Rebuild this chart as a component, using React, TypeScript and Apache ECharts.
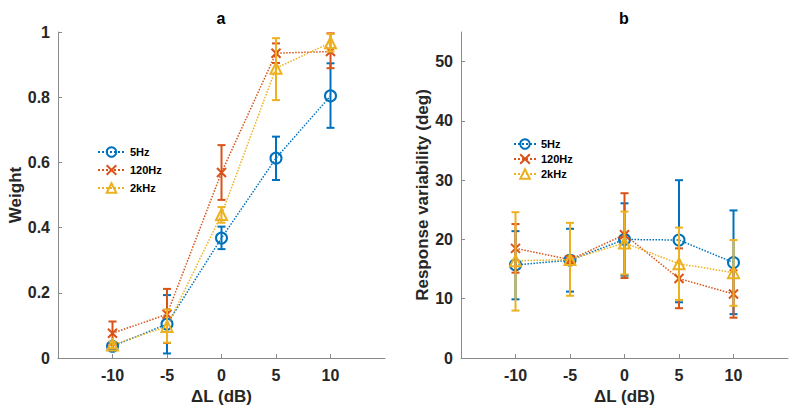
import React, { useEffect, useRef } from "react";
import * as echarts from "echarts";

// ---- data ----
const levels = [-10, -5, 0, 5, 10];
const xTicks = [-10, -5, 0, 5, 10];
const weightTicks = [0, 0.2, 0.4, 0.6, 0.8, 1];
const varTicks = [0, 10, 20, 30, 40, 50];
const seriesNames = ["5Hz", "120Hz", "2kHz"];

// Panel a: Weight
const w5Hz = [0.036, 0.104, 0.368, 0.613, 0.804];
const w5HzLo = [0.026, 0.014, 0.334, 0.546, 0.706];
const w5HzHi = [0.046, 0.193, 0.403, 0.679, 0.904];
const w120Hz = [0.076, 0.134, 0.569, 0.935, 0.94];
const w120HzLo = [0.04, 0.046, 0.485, 0.905, 0.889];
const w120HzHi = [0.112, 0.212, 0.653, 0.965, 0.996];
const w2kHz = [0.04, 0.097, 0.44, 0.889, 0.967];
const w2kHzLo = [0.03, 0.047, 0.415, 0.791, 0.94];
const w2kHzHi = [0.05, 0.149, 0.463, 0.981, 0.994];

// Panel b: Response variability (deg)
const v5Hz = [15.7, 16.5, 20.0, 19.9, 16.1];
const v5HzLo = [9.9, 11.2, 13.9, 9.4, 7.4];
const v5HzHi = [21.4, 21.8, 26.1, 30.0, 24.9];
const v120Hz = [18.5, 16.6, 20.8, 13.4, 10.8];
const v120HzLo = [14.4, 16.0, 13.5, 8.4, 6.8];
const v120HzHi = [22.6, 17.2, 27.8, 18.5, 14.8];
const v2kHz = [16.4, 16.6, 19.4, 15.9, 14.4];
const v2kHzLo = [8.0, 10.5, 14.1, 9.8, 8.8];
const v2kHzHi = [24.6, 22.8, 24.7, 22.0, 19.9];

const colors = ["#0072BD", "#D95319", "#EDB120"];
const symbols = ["circle", "path://M0 0L10 10M10 0L0 10", "triangle"];
const FONT = "'Liberation Sans', Arial, Helvetica, sans-serif";
const TEXT = "#262626";
const AXIS = "#8a8a8a";

export default function App() {
  const ref = useRef<HTMLDivElement>(null);
  useEffect(() => {
    if (!ref.current) return;
    const chart = echarts.init(ref.current, undefined, { renderer: "svg" });

    const panels = [
      {
        means: [w5Hz, w120Hz, w2kHz],
        lo: [w5HzLo, w120HzLo, w2kHzLo],
        hi: [w5HzHi, w120HzHi, w2kHzHi],
      },
      {
        means: [v5Hz, v120Hz, v2kHz],
        lo: [v5HzLo, v120HzLo, v2kHzLo],
        hi: [v5HzHi, v120HzHi, v2kHzHi],
      },
    ];

    const series: any[] = [];
    panels.forEach((p, pi) => {
      seriesNames.forEach((name, si) => {
        const c = colors[si];
        series.push({
          type: "custom",
          name: name + " err " + pi,
          xAxisIndex: pi,
          yAxisIndex: pi,
          z: 2 + si,
          data: levels.map((x, i) => [x, p.lo[si][i], p.hi[si][i]]),
          encode: { x: 0, y: [1, 2] },
          renderItem: (params: any, api: any) => {
            const x = api.value(0);
            const a = api.coord([x, api.value(1)]);
            const b = api.coord([x, api.value(2)]);
            const w = 4;
            const st = { stroke: c, lineWidth: 2 };
            return {
              type: "group",
              children: [
                { type: "line", shape: { x1: a[0], y1: a[1], x2: b[0], y2: b[1] }, style: st },
                { type: "line", shape: { x1: a[0] - w, y1: a[1], x2: a[0] + w, y2: a[1] }, style: st },
                { type: "line", shape: { x1: b[0] - w, y1: b[1], x2: b[0] + w, y2: b[1] }, style: st },
              ],
            };
          },
        });
        series.push({
          type: "line",
          name,
          xAxisIndex: pi,
          yAxisIndex: pi,
          z: 2 + si,
          data: levels.map((x, i) => [x, p.means[si][i]]),
          symbol: symbols[si],
          symbolSize: si === 1 ? 9 : 11,
          showSymbol: true,
          lineStyle: { color: c, width: 1.5, type: "dotted" },
          itemStyle: { color: "rgba(0,0,0,0)", borderColor: c, borderWidth: 2 },
          emphasis: { disabled: true },
        });
      });
    });

    const xAxisBase = (gi: number) => ({
      type: "value",
      gridIndex: gi,
      min: -15,
      max: 15,
      interval: 5,
      name: "\u0394L (dB)",
      nameLocation: "middle",
      nameGap: 29,
      nameTextStyle: { fontFamily: FONT, fontWeight: "bold", fontSize: 17, color: TEXT },
      axisLine: { show: true, onZero: false, lineStyle: { color: AXIS, width: 1 } },
      axisTick: { show: true, inside: true, length: 4, customValues: xTicks, lineStyle: { color: AXIS } },
      axisLabel: { customValues: xTicks, fontFamily: FONT, fontWeight: "bold", fontSize: 16, color: TEXT, margin: 9 },
      splitLine: { show: false },
    });

    const yAxisBase = (gi: number, min: number, max: number, ticks: number[], name: string, gap: number) => ({
      type: "value",
      gridIndex: gi,
      min,
      max,
      name,
      nameLocation: "middle",
      nameGap: gap,
      nameTextStyle: { fontFamily: FONT, fontWeight: "bold", fontSize: 17, color: TEXT },
      axisLine: { show: true, onZero: false, lineStyle: { color: AXIS, width: 1 } },
      axisTick: { show: true, inside: true, length: 4, customValues: ticks, lineStyle: { color: AXIS } },
      axisLabel: { customValues: ticks, fontFamily: FONT, fontWeight: "bold", fontSize: 16, color: TEXT, margin: 8 },
      splitLine: { show: false },
    });

    const legendBase = {
      orient: "vertical",
      data: seriesNames,
      itemHeight: 12,
      textStyle: { fontFamily: FONT, fontWeight: "bold", fontSize: 11, color: "#000", lineHeight: 12 },
      selectedMode: false,
      padding: 0,
    };

    chart.setOption({
      animation: false,
      backgroundColor: "#ffffff",
      graphic: [
        {
          type: "text",
          x: 221,
          y: 18.5,
          style: { text: "a", textAlign: "center", textVerticalAlign: "middle", font: `bold 16px ${FONT}`, fill: "#000" },
        },
        {
          type: "text",
          x: 624,
          y: 18.5,
          style: { text: "b", textAlign: "center", textVerticalAlign: "middle", font: `bold 16px ${FONT}`, fill: "#000" },
        },
      ],
      grid: [
        { left: 58, top: 32, width: 327, height: 326 },
        { left: 461, top: 32, width: 327, height: 326 },
      ],
      xAxis: [xAxisBase(0), xAxisBase(1)],
      yAxis: [
        yAxisBase(0, 0, 1, weightTicks, "Weight", 28),
        yAxisBase(1, 0, 55, varTicks, "Response variability (deg)", 30),
      ],
      legend: [
        { ...legendBase, left: 97, top: 146, itemWidth: 27, itemGap: 6 },
        { ...legendBase, left: 513, top: 138, itemWidth: 22, itemGap: 3 },
      ],
      series,
    });
    return () => chart.dispose();
  }, []);

  return (
    <div
      ref={ref}
      style={{ position: "fixed", left: 0, top: 0, width: 800, height: 417, background: "#fff" }}
    />
  );
}
